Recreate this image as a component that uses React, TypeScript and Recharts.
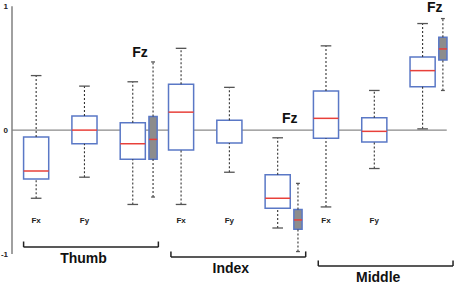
import React from 'react';
import { ComposedChart, XAxis, YAxis, ReferenceArea, ReferenceLine, ReferenceDot } from 'recharts';

// finger groups and the force component of each box inside a group
const groups = ['Thumb', 'Index', 'Middle'];
const components = ['Fx', 'Fy', 'Fz', 'Fz'];

// five-number summaries, order: Thumb Fx,Fy,Fz,Fz* | Index ... | Middle ...
const whiskerHigh = [0.44, 0.355, 0.39, 0.55, 0.66, 0.345, -0.062, -0.43, 0.68, 0.32, 0.86, 0.9];
const q3 = [-0.056, 0.113, 0.06, 0.11, 0.37, 0.08, -0.36, -0.64, 0.315, 0.1, 0.59, 0.75];
const median = [-0.33, 0.0, -0.11, -0.075, 0.145, null, -0.55, -0.725, 0.095, -0.01, 0.48, 0.655];
const q1 = [-0.395, -0.11, -0.235, -0.235, -0.16, -0.105, -0.63, -0.8, -0.065, -0.095, 0.35, 0.565];
const whiskerLow = [-0.55, -0.38, -0.6, -0.54, -0.6, -0.34, -0.79, -0.98, -0.62, -0.31, 0.01, 0.32];

const yTicks = [-1, 0, 1];

const FONT = '"Liberation Sans", Arial, Helvetica, sans-serif';
const BLUE = '#5a78c6';
const RED = '#e8403a';
const GREY = '#8c8c8c';

// layout of slots on the hidden numeric x axis
const slotOffset = [0.5, 1.5, 2.5, 2.92];
const bracketDrop = [0, 0.08, 0.153];

const boxes = whiskerHigh.map((hi, i) => {
  const g = Math.floor(i / 4);
  const k = i % 4;
  const narrow = k === 3;
  return {
    key: `${groups[g]}-${i}`,
    group: groups[g],
    label: components[k],
    x: g * 3 + slotOffset[k],
    half: narrow ? 0.085 : 0.26,
    cap: narrow ? 0.04 : 0.11,
    narrow,
    hi,
    q3: q3[i],
    med: median[i],
    q1: q1[i],
    lo: whiskerLow[i],
  };
});

const fzLabels = [
  { x: 2.65, y: 0.63 },
  { x: 5.75, y: 0.1 },
  { x: 8.75, y: 0.99 },
];

const App: React.FC = () => {
  return (
    <div style={{ position: 'absolute', left: 0, top: 0, width: 454, height: 285, background: '#fff' }}>
      <ComposedChart width={454} height={285} data={boxes} margin={{ top: 0, right: 0, bottom: 0, left: 0 }}>
        <XAxis type="number" dataKey="x" domain={[0, 9.15]} allowDataOverflow hide />
        <YAxis
          type="number"
          domain={[-1.25, 1.05]}
          allowDataOverflow
          ticks={yTicks}
          width={12}
          axisLine={false}
          tickLine={false}
          tickSize={2}
          tickMargin={2}
          tick={{ fontSize: 8, fill: '#222', fontFamily: FONT, fontWeight: 'bold' }}
        />

        {/* axis line */}
        <ReferenceLine segment={[{ x: 0, y: -1 }, { x: 0, y: 1 }]} stroke="#808080" strokeWidth={1.5} />
        {/* zero line as a thin area so the boxes cover it */}
        <ReferenceArea x1={0} x2={9} y1={-0.005} y2={0.005} fill="#8a8a8a" fillOpacity={1} stroke="none" />

        {boxes.map(b => (
          <React.Fragment key={`w-${b.key}`}>
            <ReferenceLine
              segment={[{ x: b.x, y: b.q3 }, { x: b.x, y: b.hi }]}
              stroke="#333"
              strokeWidth={1.1}
              strokeDasharray="2 2"
            />
            <ReferenceLine
              segment={[{ x: b.x, y: b.lo }, { x: b.x, y: b.q1 }]}
              stroke="#333"
              strokeWidth={1.1}
              strokeDasharray="2 2"
            />
            <ReferenceLine
              segment={[{ x: b.x - b.cap, y: b.hi }, { x: b.x + b.cap, y: b.hi }]}
              stroke="#555"
              strokeWidth={1.3}
            />
            <ReferenceLine
              segment={[{ x: b.x - b.cap, y: b.lo }, { x: b.x + b.cap, y: b.lo }]}
              stroke="#555"
              strokeWidth={1.3}
            />
          </React.Fragment>
        ))}
        {boxes.map(b => (
          <ReferenceArea
            key={`b-${b.key}`}
            x1={b.x - b.half}
            x2={b.x + b.half}
            y1={b.q1}
            y2={b.q3}
            fill={b.narrow ? GREY : '#fff'}
            fillOpacity={1}
            stroke={BLUE}
            strokeWidth={1.5}
          />
        ))}
        {boxes
          .filter(b => b.med !== null)
          .map(b => (
            <ReferenceLine
              key={`m-${b.key}`}
              segment={[{ x: b.x - b.half, y: b.med as number }, { x: b.x + b.half, y: b.med as number }]}
              stroke={RED}
              strokeWidth={1.5}
            />
          ))}

        {/* component labels */}
        {boxes
          .filter(b => b.label !== 'Fz')
          .map(b => (
            <ReferenceDot
              key={`l-${b.key}`}
              x={b.x}
              y={-0.73}
              r={0}
              fill="none"
              stroke="none"
              label={{ value: b.label, position: 'center', fontSize: 8, fontWeight: 'bold', fill: '#222', fontFamily: FONT }}
            />
          ))}
        {fzLabels.map((p, i) => (
          <ReferenceDot
            key={`fz-${i}`}
            x={p.x}
            y={p.y}
            r={0}
            fill="none"
            stroke="none"
            label={{ value: 'Fz', position: 'center', fontSize: 14, fontWeight: 'bold', fill: '#111', fontFamily: FONT }}
          />
        ))}

        {/* group brackets */}
        {groups.map((g, i) => {
          const start = i * 3.05 + 0.24;
          const end = start + 2.79;
          const y = -0.944 - bracketDrop[i];
          return (
            <React.Fragment key={`br-${g}`}>
              <ReferenceLine segment={[{ x: start, y }, { x: end, y }]} stroke="#222" strokeWidth={1.5} />
              <ReferenceLine segment={[{ x: start, y }, { x: start, y: y + 0.045 }]} stroke="#222" strokeWidth={1.5} />
              <ReferenceLine segment={[{ x: end, y }, { x: end, y: y + 0.045 }]} stroke="#222" strokeWidth={1.5} />
              <ReferenceDot
                x={start + 1.24}
                y={y - 0.09}
                r={0}
                fill="none"
                stroke="none"
                label={{ value: g, position: 'center', fontSize: 14, fontWeight: 'bold', fill: '#111', fontFamily: FONT }}
              />
            </React.Fragment>
          );
        })}
      </ComposedChart>
    </div>
  );
};

export default App;
